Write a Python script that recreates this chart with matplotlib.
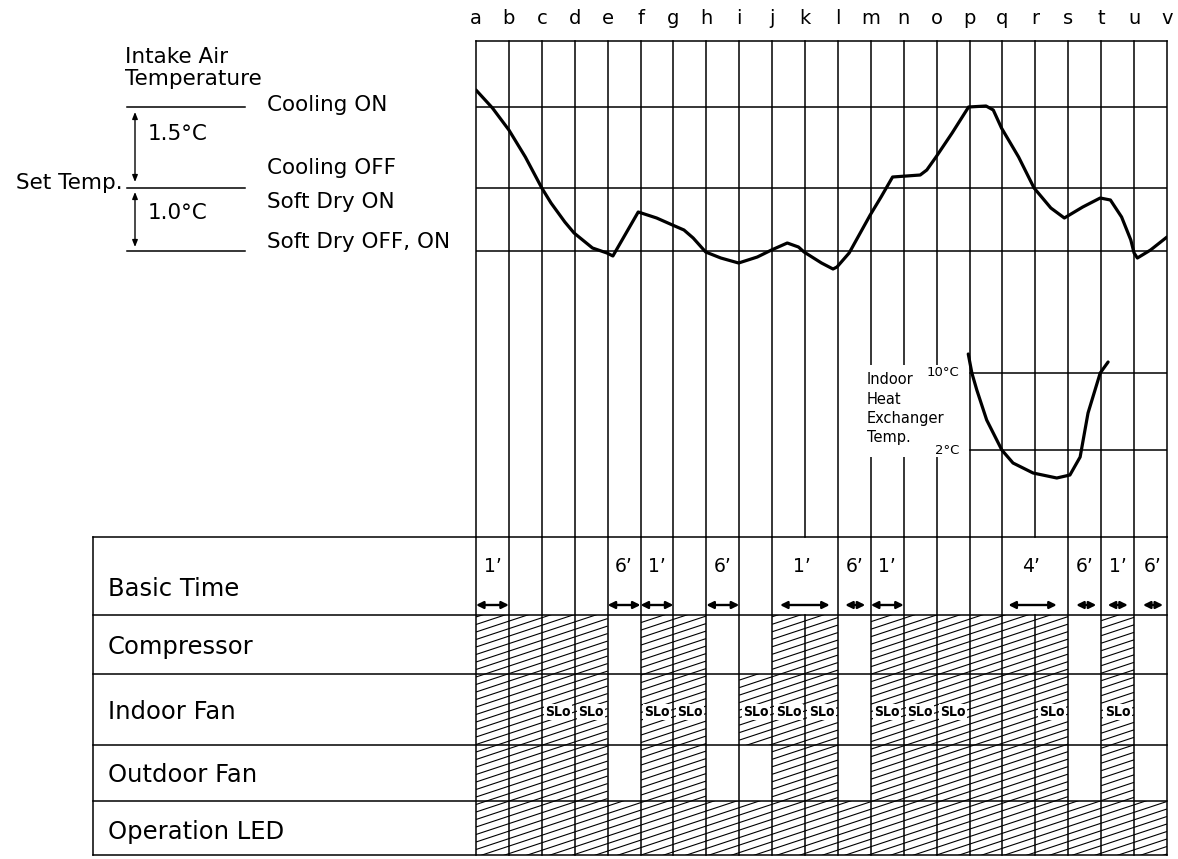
import numpy as np
import matplotlib.pyplot as plt
from matplotlib.patches import Rectangle
from matplotlib.collections import LineCollection

plt.rcParams['font.family'] = ['DejaVu Sans']

# time marks along the top (one grid line per letter)
letters = list('abcdefghijklmnopqrstuv')

# threshold levels of the upper diagram (height units above the table)
COOL_ON = 430
SET_TEMP = 349
DRY_OFF = 286
HX_10 = 164
HX_2 = 87

# intake air temperature curve
intake_x = [0.0, 0.5, 1.0, 1.5, 2.0, 2.28, 2.7, 2.98, 3.54, 3.98, 4.16, 4.93,
            5.49, 5.97, 6.32, 6.6, 6.98, 7.44, 7.98, 8.55, 8.98, 9.46, 9.8,
            9.97, 10.5, 10.85, 10.97, 11.34, 11.98, 12.31, 12.66, 13.5, 13.7,
            13.98, 14.47, 14.97, 15.5, 15.72, 15.97, 16.49, 16.96, 17.47,
            17.88, 18.44, 18.97, 19.28, 19.62, 19.9, 20.0, 20.1, 20.5, 21.0]
intake_y = [447, 429, 407, 380, 349, 334, 315, 304, 289, 284, 281, 325,
            319, 312, 307, 299, 285, 279, 274, 280, 287, 294, 290,
            285, 274, 268, 270, 284, 322, 340, 360, 362, 367,
            380, 404, 430, 431, 427, 409, 380, 349, 329,
            319, 330, 339, 337, 320, 297, 284, 279, 287, 300]

# indoor heat exchanger temperature curve
hx_x = [14.96, 15.07, 15.22, 15.52, 15.98, 16.32, 16.93, 17.65, 18.05, 18.36,
        18.6, 18.97, 19.21]
hx_y = [183, 164, 147, 117, 87, 74, 64, 59, 62, 80, 124, 164, 175]
hx_label = ['Indoor', 'Heat', 'Exchanger', 'Temp.']

row_names = ['Basic Time', 'Compressor', 'Indoor Fan', 'Outdoor Fan', 'Operation LED']
compressor_on = [0, 1, 2, 3, 5, 6, 9, 10, 12, 13, 14, 15, 16, 17, 19]
indoor_fan_on = [0, 1, 2, 3, 5, 6, 8, 9, 10, 12, 13, 14, 15, 16, 17, 19]
indoor_slo = [2, 3, 5, 6, 8, 9, 10, 12, 13, 14, 17, 19]
outdoor_fan_on = [0, 1, 2, 3, 5, 6, 9, 10, 12, 13, 14, 15, 16, 17, 19]
led_on = list(range(21))

# basic time arrows
bt_labels = ['1’', '6’', '1’', '6’', '1’', '6’', '1’', '4’', '6’', '1’', '6’']
bt_start = [0.0, 4.0, 5.0, 7.0, 9.24, 11.22, 12.0, 16.18, 18.24, 19.2, 20.27]
bt_end = [1.0, 5.0, 6.0, 8.0, 10.75, 11.83, 13.0, 17.65, 18.85, 19.81, 20.88]
bt_text_x = [0.5, 4.5, 5.5, 7.5, 9.9, 11.5, 12.5, 16.86, 18.5, 19.5, 20.55]

W, H = 1178, 859
X0, X1 = 476, 1167
unit = (X1 - X0) / 21
LW = 1.1


def box(l, t, r, b):
    return [l / W, 1 - b / H, (r - l) / W, (b - t) / H]


def ux(px):
    return (px - X0) / unit


fig = plt.figure(figsize=(W / 100, H / 100), dpi=100)

# ---------- upper diagram ----------
ax = fig.add_axes(box(X0, 41, X1, 537))
ax.set_xlim(0, 21)
ax.set_ylim(0, 496)
ax.axis('off')

for i, lt in enumerate(letters):
    ax.plot([i, i], [0, 496], color='k', lw=LW, zorder=3, clip_on=False)
    ax.text(i, 518, lt, ha='center', va='center', fontsize=14, clip_on=False)
ax.plot([0, 21], [496, 496], color='k', lw=LW, zorder=3, clip_on=False)
for lv in (COOL_ON, SET_TEMP, DRY_OFF):
    ax.plot([0, 21], [lv, lv], color='k', lw=LW, zorder=3)
for lv in (HX_10, HX_2):
    ax.plot([15, 21], [lv, lv], color='k', lw=LW, zorder=3)

ax.add_patch(Rectangle((ux(862), 80), ux(960) - ux(862), 92, fc='white',
                       ec='none', zorder=4))
for k, word in enumerate(hx_label):
    ax.text(ux(867), 157 - 19.3 * k, word, ha='left', va='center',
            fontsize=10.5, zorder=5)
ax.text(ux(959), HX_10, '10°C', ha='right', va='center', fontsize=9.5, zorder=5)
ax.text(ux(959), HX_2, '2°C', ha='right', va='center', fontsize=9.5, zorder=5)

ax.plot(intake_x, intake_y, color='k', lw=2.3, zorder=6,
        solid_joinstyle='round', solid_capstyle='round')
ax.plot(hx_x, hx_y, color='k', lw=2.3, zorder=6,
        solid_joinstyle='round', solid_capstyle='round')

# left legend of thresholds
for lv in (COOL_ON, SET_TEMP, DRY_OFF):
    ax.plot([ux(127), ux(245)], [lv, lv], color='k', lw=LW, clip_on=False)
for y0, y1 in ((COOL_ON - 5, SET_TEMP + 6), (SET_TEMP - 4, DRY_OFF + 4)):
    ax.annotate('', xy=(ux(135), y1), xytext=(ux(135), y0), annotation_clip=False,
                arrowprops=dict(arrowstyle='<|-|>,head_length=0.5,head_width=0.2',
                                mutation_scale=8, lw=1.0, color='k',
                                shrinkA=0, shrinkB=0))
fs = 15.5
ax.text(ux(125), 469, 'Intake Air\nTemperature', ha='left', va='center',
        fontsize=fs, linespacing=1.1, clip_on=False)
ax.text(ux(267), 432, 'Cooling ON', ha='left', va='center', fontsize=fs, clip_on=False)
ax.text(ux(148), 403, '1.5°C', ha='left', va='center', fontsize=fs, clip_on=False)
ax.text(ux(267), 369, 'Cooling OFF', ha='left', va='center', fontsize=fs, clip_on=False)
ax.text(ux(123), 354, 'Set Temp.', ha='right', va='center', fontsize=fs, clip_on=False)
ax.text(ux(267), 335, 'Soft Dry ON', ha='left', va='center', fontsize=fs, clip_on=False)
ax.text(ux(148), 324, '1.0°C', ha='left', va='center', fontsize=fs, clip_on=False)
ax.text(ux(267), 295, 'Soft Dry OFF, ON', ha='left', va='center', fontsize=fs,
        clip_on=False)

# ---------- table ----------
tb = fig.add_axes(box(93, 537, X1, 855))
tb.set_xlim(ux(93), 21)
tb.set_ylim(318, 0)
tb.axis('off')
row_edges = [0, 78, 136.5, 208, 264, 318]

slope = 0.33 * unit
step = 7.5


def runs(cells):
    out = []
    for c in sorted(cells):
        if out and out[-1][1] == c:
            out[-1][1] = c + 1
        else:
            out.append([c, c + 1])
    return out


def hatch(cells, y0, y1):
    for x0, x1 in runs(cells):
        rect = Rectangle((x0, y0), x1 - x0, y1 - y0, fc='none', ec='none')
        tb.add_patch(rect)
        segs = []
        for c in np.arange(-400, 1200, step):
            segs.append([(x0, c - slope * x0), (x1, c - slope * x1)])
        lc = LineCollection(segs, colors='k', linewidths=0.8, zorder=1)
        tb.add_collection(lc)
        lc.set_clip_path(rect)


hatch(compressor_on, row_edges[1], row_edges[2])
hatch(indoor_fan_on, row_edges[2], row_edges[3])
hatch(outdoor_fan_on, row_edges[3], row_edges[4])
hatch(led_on, row_edges[4], row_edges[5])

yc = 174.5
for c in indoor_slo:
    tb.add_patch(Rectangle((c + 0.07, yc - 8), 0.86, 16, fc='white', ec='none',
                           zorder=2))
    tb.text(c + 0.5, yc + 0.5, 'SLo', ha='center', va='center', fontsize=10,
            fontweight='bold', fontstretch='condensed', zorder=5)

for e in row_edges:
    tb.plot([ux(93), 21], [e, e], color='k', lw=LW, zorder=3, clip_on=False)
tb.plot([ux(93), ux(93)], [0, 318], color='k', lw=LW, zorder=3, clip_on=False)
for i in range(22):
    top = row_edges[1] if i in (10, 17) else 0
    tb.plot([i, i], [top, 318], color='k', lw=LW, zorder=3, clip_on=False)

label_y = [52, 110, 175, 238, 295]
for name, y in zip(row_names, label_y):
    tb.text(ux(108), y, name, ha='left', va='center', fontsize=17.5)

for lab, s, e, tx in zip(bt_labels, bt_start, bt_end, bt_text_x):
    tb.annotate('', xy=(e, 68), xytext=(s, 68),
                arrowprops=dict(arrowstyle='<|-|>,head_length=0.6,head_width=0.3',
                                mutation_scale=7, lw=1.7, color='k',
                                shrinkA=0, shrinkB=0))
    tb.text(tx, 30, lab, ha='center', va='center', fontsize=13.5)

fig.savefig('out.png', dpi=100, facecolor='white')
